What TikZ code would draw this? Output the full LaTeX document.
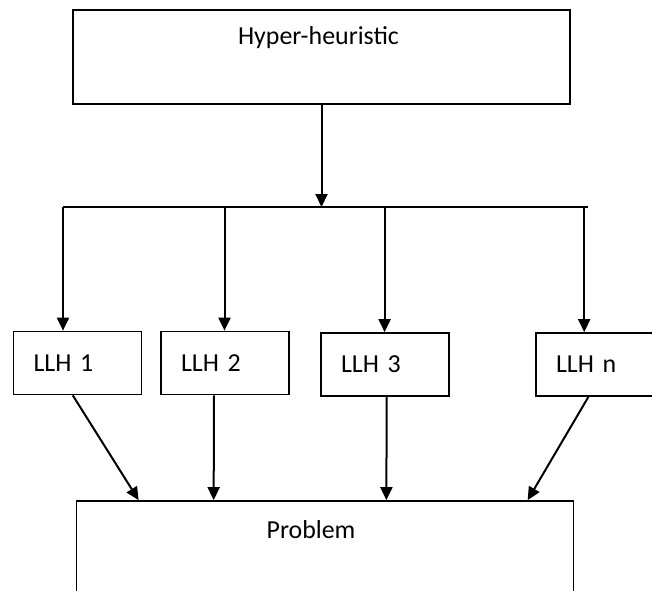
\documentclass[tikz,border=0pt]{standalone}
\usepackage{fontspec}
\setmainfont{Carlito}
\usetikzlibrary{arrows.meta,positioning,calc}
\definecolor{ink}{HTML}{000000}

\begin{document}
\begin{tikzpicture}[x=1bp,y=-1bp,font=\fontsize{26}{30}\selectfont,
    wire/.style={draw=ink,line width=2bp},
    arr/.style={wire,-{Triangle[length=13bp,width=12bp]}},
    bigbox/.style={draw=ink,line width=1.7bp,minimum width=497bp,
                   minimum height=94bp,inner sep=0pt},
    llhbox/.style={draw=ink,line width=1.7bp,minimum width=128bp,
                   minimum height=63bp,text width=88bp,align=left,
                   inner xsep=20bp,inner ysep=0pt}]
  \clip (0,0) rectangle (652,591);
  % top and bottom boxes
  \node[bigbox] (hh) at (321.5,57) {};
  \node (hhtxt) at (318.5,38) {Hyper-heuristic};
  \node[bigbox,minimum height=110bp] (prob) at (325,556) {};
  \node (probtxt) at (311,530) {Problem};
  % low level heuristics
  \node[llhbox] (llh1) at (77.5,363) {LLH 1};
  \node[llhbox] (llh2) at (225,363) {LLH 2};
  \node[llhbox] (llh3) at (385,364.5) {LLH 3};
  \node[llhbox] (llhn) at (600,364.5) {LLH n};
  % distribution bus
  \coordinate (busl) at (63,207);
  \coordinate (bus2) at (224.5,207);
  \coordinate (bus3) at (384.6,207);
  \coordinate (busn) at (584.2,207);
  \coordinate (busr) at (588,207);
  \draw[wire] (busl) -- (busr);
  \draw[arr] (hh.south) -- (hh.south |- busl);
  \draw[arr] (busl) -- (busl |- llh1.north);
  \draw[arr] (bus2) -- (bus2 |- llh2.north);
  \draw[arr] (bus3) -- (bus3 |- llh3.north);
  \draw[arr] (busn) -- (busn |- llhn.north);
  % into the problem
  \draw[arr] ([xshift=-4.7bp]llh1.south) -- ([xshift=63bp]prob.north west);
  \draw[arr] ([xshift=-11bp]llh2.south) -- ([xshift=138bp]prob.north west);
  \draw[arr] ([xshift=1.7bp]llh3.south) -- ([xshift=310.7bp]prob.north west);
  \draw[arr] ([xshift=-11.6bp]llhn.south) -- ([xshift=452bp]prob.north west);
\end{tikzpicture}
\end{document}
